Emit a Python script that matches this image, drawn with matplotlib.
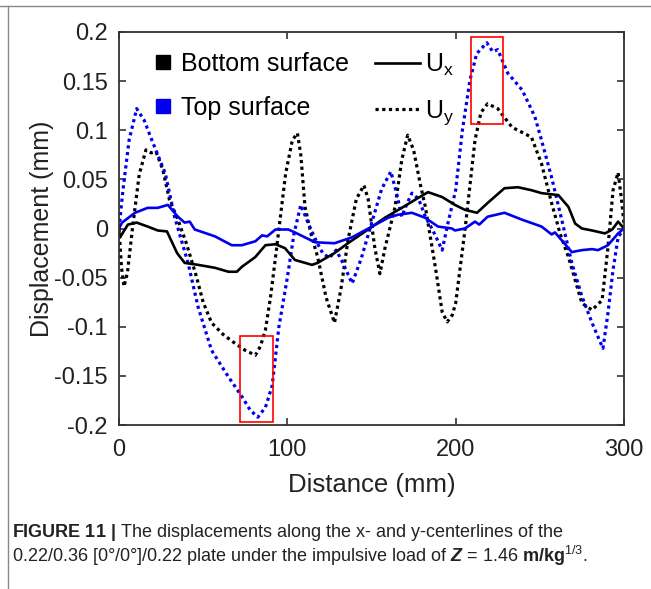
import numpy as np
import matplotlib
matplotlib.use("Agg")
import matplotlib.pyplot as plt
from matplotlib import font_manager
from matplotlib.lines import Line2D
from matplotlib.patches import Rectangle

names = {f.name for f in font_manager.fontManager.ttflist}
main_font = "Liberation Sans"
cap_font = "Liberation Sans Narrow" if "Liberation Sans Narrow" in names else "Liberation Sans"

plt.rcParams["font.family"] = [main_font, "DejaVu Sans"]
plt.rcParams["mathtext.fontset"] = "custom"
plt.rcParams["mathtext.rm"] = cap_font
plt.rcParams["mathtext.bf"] = cap_font + ":bold"
plt.rcParams["mathtext.it"] = cap_font + ":italic"
plt.rcParams["mathtext.bfit"] = cap_font + ":bold:italic"
plt.rcParams["mathtext.sf"] = main_font

# Ux, bottom surface
ux_bot_x = [0, 0.6, 5.3, 10.5, 17, 23, 28.5, 34.5, 39, 47, 57, 65, 70, 73, 81, 87, 93,
            98.6, 104.5, 114.6, 118, 128, 136, 148, 158, 168, 177.6, 183.6, 192, 199.6,
            205.5, 212.7, 219, 229, 237, 245, 251, 261, 267, 271, 275, 281, 288.7, 293,
            296.5, 300]
ux_bot_y = [-0.002, -0.009, 0.004, 0.006, 0.002, -0.002, -0.003, -0.025, -0.035, -0.037,
            -0.040, -0.044, -0.044, -0.039, -0.029, -0.017, -0.016, -0.020, -0.032, -0.037,
            -0.035, -0.025, -0.015, -0.001, 0.011, 0.021, 0.031, 0.037, 0.032, 0.024,
            0.019, 0.016, 0.026, 0.041, 0.042, 0.039, 0.036, 0.034, 0.022, 0.005, 0.000,
            -0.002, -0.005, -0.001, 0.007, 0.000]

# Ux, top surface
ux_top_x = [0, 1.8, 9.5, 17, 23, 29, 35, 39, 42, 45, 57, 67, 73, 81, 85, 88, 93, 100.6,
            104.5, 116.4, 128, 138.4, 150.3, 160, 165.7, 174, 181.8, 189.5, 197.8, 199.6,
            205.5, 211.5, 214, 219, 229, 239.4, 251, 257, 259, 269, 275, 281, 284.6, 290.5,
            296.5, 300]
ux_top_y = [0.000, 0.006, 0.016, 0.021, 0.021, 0.024, 0.012, 0.006, 0.007, -0.001,
            -0.008, -0.017, -0.017, -0.013, -0.007, -0.008, -0.001, -0.001, -0.004, -0.014,
            -0.015, -0.009, 0.002, 0.011, 0.014, 0.016, 0.011, 0.002, 0.000, -0.002,
            0.000, 0.007, 0.004, 0.012, 0.016, 0.009, 0.002, -0.006, -0.004, -0.024,
            -0.022, -0.021, -0.022, -0.017, -0.005, 0.000]

# Uy, bottom surface
uy_bot_x = [0, 1.5, 3, 5, 8, 12, 16, 19, 22, 26, 30, 35, 40, 46, 50, 55, 62, 69, 75, 81,
            84, 87, 90, 93, 99, 103, 106, 108, 110.5, 114, 118, 123, 128, 132, 136, 141,
            145.5, 148, 152, 155, 158, 164, 168, 171.5, 175, 179, 182, 188, 192, 195, 198,
            200, 205.5, 211.5, 215, 219, 225, 233.5, 245, 251, 257, 262, 267, 275, 281,
            287, 290.5, 293.5, 296.5, 298.5, 300]
uy_bot_y = [0.000, -0.040, -0.059, -0.045, 0.000, 0.055, 0.080, 0.077, 0.078, 0.060,
            0.029, 0.009, -0.015, -0.049, -0.075, -0.096, -0.108, -0.117, -0.124, -0.129,
            -0.120, -0.103, -0.070, -0.029, 0.056, 0.090, 0.097, 0.075, 0.022, -0.005,
            -0.029, -0.070, -0.096, -0.060, -0.012, 0.030, 0.044, 0.030, -0.020, -0.046,
            -0.020, 0.022, 0.070, 0.095, 0.080, 0.045, 0.022, -0.040, -0.085, -0.095,
            -0.088, -0.076, -0.002, 0.090, 0.118, 0.127, 0.122, 0.103, 0.093, 0.066,
            0.026, -0.005, -0.029, -0.076, -0.083, -0.073, -0.019, 0.039, 0.057, 0.030,
            0.005]

# Uy, top surface
uy_top_x = [0, 2.4, 6, 10.5, 15, 19.5, 27.5, 33, 41, 47, 55, 65, 73, 78, 82.5, 87, 91, 95,
            100, 104, 108, 112.5, 117.5, 121, 125, 129, 133, 138.5, 144, 150, 156, 161.5,
            165, 168, 171, 174, 178, 182, 186.5, 192, 195.5, 200, 204, 208.5, 212.5, 218.5,
            222, 225, 231, 239.5, 247, 251, 257, 263, 269, 275, 281, 287.5, 290.5, 293.5,
            296.5, 300]
uy_top_y = [0.000, 0.040, 0.090, 0.122, 0.110, 0.090, 0.056, 0.012, -0.035, -0.080,
            -0.124, -0.151, -0.171, -0.185, -0.192, -0.182, -0.160, -0.100, -0.050, -0.005,
            0.024, 0.005, -0.014, -0.025, -0.030, -0.022, -0.035, -0.056, -0.030, 0.005,
            0.040, 0.058, 0.035, 0.012, 0.025, 0.036, 0.030, 0.012, -0.002, -0.022, 0.006,
            0.039, 0.100, 0.151, 0.178, 0.189, 0.180, 0.182, 0.158, 0.141, 0.114, 0.090,
            0.052, 0.009, -0.035, -0.069, -0.096, -0.122, -0.086, -0.042, -0.009, 0.000]

# highlighted extremes: (x0, y0, width, height)
boxes = [(71.9, -0.197, 19.6, 0.088), (209.1, 0.106, 19.0, 0.089)]

fig = plt.figure(figsize=(6.51, 5.89), dpi=100)
ax = fig.add_axes([0.1828, 0.2784, 0.7757, 0.6673])

dots = (0, (1, 1.1))
ax.plot(uy_bot_x, uy_bot_y, color="black", lw=2.3, ls=dots)
ax.plot(uy_top_x, uy_top_y, color="#0000ee", lw=2.3, ls=dots)
ax.plot(ux_bot_x, ux_bot_y, color="black", lw=1.9)
ax.plot(ux_top_x, ux_top_y, color="#0000ee", lw=1.9)

for bx, by, bw, bh in boxes:
    ax.add_patch(Rectangle((bx, by), bw, bh, fill=False, ec="red", lw=1.2, zorder=5))

ax.set_xlim(0, 300)
ax.set_ylim(-0.2, 0.2)
ax.set_xticks([0, 100, 200, 300])
ax.set_yticks(np.arange(-0.2, 0.201, 0.05))
ax.set_yticklabels(["-0.2", "-0.15", "-0.1", "-0.05", "0", "0.05", "0.1", "0.15", "0.2"])
ax.tick_params(direction="in", top=True, right=True, length=5, width=1.2,
               labelsize=17, color="#333333", labelcolor="#222222")
ax.tick_params(axis="y", pad=8)
ax.tick_params(axis="x", pad=10)
for s in ax.spines.values():
    s.set_linewidth(1.3)
    s.set_color("#333333")

ax.set_xlabel("Distance (mm)", fontsize=18.5, color="#222222", labelpad=9)
ax.set_ylabel("Displacement (mm)", fontsize=18, color="#222222", labelpad=0)

# surface legend (squares) and component legend (line styles)
sq_handles = [
    Line2D([], [], ls="none", marker="s", ms=10.5, color="black"),
    Line2D([], [], ls="none", marker="s", ms=10.5, color="#0000ee"),
]
leg1 = ax.legend(sq_handles, ["Bottom surface", "Top surface"], loc="upper left",
                 bbox_to_anchor=(0.043, 0.975), borderaxespad=0, frameon=False,
                 fontsize=18, handlelength=1.0, handletextpad=0.22, labelspacing=0.8)
ax.add_artist(leg1)
ln_handles = [
    Line2D([], [], color="black", lw=1.9),
    Line2D([], [], color="black", lw=2.3, ls=dots),
]
ax.legend(ln_handles, [r"U$_\mathsf{x}$", r"U$_\mathsf{y}$"], loc="upper left",
          bbox_to_anchor=(0.487, 0.975), borderaxespad=0, frameon=False,
          fontsize=18, handlelength=1.8, handletextpad=0.2, labelspacing=0.8)

# page frame lines
fig.add_artist(Line2D([0, 1], [1 - 6 / 589, 1 - 6 / 589], color="#888888", lw=1.0))
fig.add_artist(Line2D([8 / 651, 8 / 651], [0, 1 - 6 / 589], color="#888888", lw=1.0))

cap1 = r"$\mathbf{FIGURE\ 11\ |}$ The displacements along the x- and y-centerlines of the"
cap2 = (r"0.22/0.36 [0°/0°]/0.22 plate under the impulsive load of $\mathbfit{Z}$ = 1.46 "
        r"$\mathbf{m/kg}^{1/3}$.")
fig.text(12 / 651, 1 - 537 / 589, cap1, fontsize=13, family=cap_font, color="#222222")
fig.text(12 / 651, 1 - 562 / 589, cap2, fontsize=13, family=cap_font, color="#222222")

fig.savefig("out.png", dpi=100)
